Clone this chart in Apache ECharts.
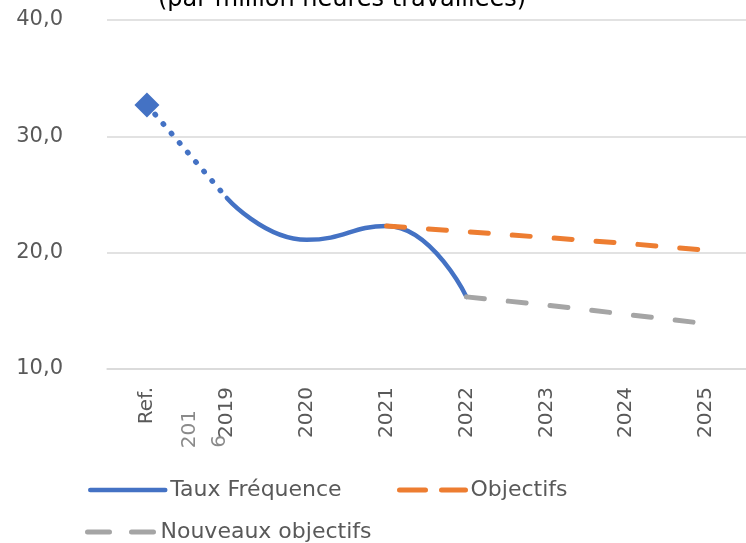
<!DOCTYPE html>
<html>
<head>
<meta charset="utf-8">
<script src="https://cdn.jsdelivr.net/npm/echarts@6/dist/echarts.min.js"></script>
<style>
  html, body { margin: 0; padding: 0; background: #fff; }
  #chart { width: 746px; height: 543px; }
</style>
</head>
<body>
<div id="chart"></div>
<script>
// categories and values
const categories = ['Ref.', '2019', '2020', '2021', '2022', '2023', '2024', '2025'];
const refDotted = [32.7, 24.7, null, null, null, null, null, null];
const tauxFrequence = [null, 24.7, 21.1, 22.3, 16.2, null, null, null];
const objectifs = [null, null, null, 22.3, 21.8, 21.3, 20.8, 20.2];
const nouveauxObjectifs = [null, null, null, null, 16.2, 15.5, 14.7, 13.9];
const yTicks = [10, 20, 30, 40];

const FONT = 'DejaVu Sans';
const GREY_TEXT = '#595959';
const BLUE = '#4472C4', ORANGE = '#ED7D31', GREY = '#A5A5A5';

let chart = echarts.init(document.getElementById('chart'));

// premier point : losange, puis pointillés
const refData = refDotted.map((v, i) => {
  if (v === null) return '-';
  if (i === 0) return { value: v, symbol: 'diamond', symbolSize: 25 };
  return { value: v, symbol: 'none' };
});

const noSymbol = { opacity: 0, color: 'rgba(0,0,0,0)', borderWidth: 0 };
const legendText = { fontFamily: FONT, fontSize: 22, color: GREY_TEXT };

let option = {
  animation: false,
  title: {
    text: '(par million heures travaillées)',
    left: 337,
    top: -17,
    textAlign: 'center',
    textStyle: { fontFamily: FONT, fontSize: 24, fontWeight: 'normal', color: '#000' }
  },
  legend: [
    {
      data: ['Taux Fréquence'],
      left: 83, top: 474,
      itemWidth: 75, itemHeight: 14,
      itemStyle: noSymbol,
      lineStyle: { width: 4.5, cap: 'round' },
      textStyle: legendText
    },
    {
      data: ['Objectifs'],
      left: 392, top: 474,
      itemWidth: 66, itemHeight: 14,
      itemStyle: noSymbol,
      lineStyle: { width: 5, type: [26, 16], cap: 'round' },
      textStyle: legendText
    },
    {
      data: ['Nouveaux objectifs'],
      left: 80, top: 516,
      itemWidth: 68, itemHeight: 14,
      itemStyle: noSymbol,
      lineStyle: { width: 5, type: [22, 22], cap: 'round' },
      textStyle: legendText
    }
  ],
  grid: { left: 107, right: -4, top: 20, bottom: 174 },
  xAxis: {
    type: 'category',
    data: categories,
    boundaryGap: true,
    axisLine: { lineStyle: { color: '#D9D9D9', width: 1.5 } },
    axisTick: { show: false },
    axisLabel: {
      rotate: 90,
      margin: 18,
      interval: 0,
      fontFamily: FONT,
      fontSize: 20,
      color: GREY_TEXT
    }
  },
  yAxis: {
    type: 'value',
    min: yTicks[0],
    max: yTicks[yTicks.length - 1],
    interval: 10,
    axisLine: { show: false },
    axisTick: { show: false },
    splitLine: { lineStyle: { color: '#D9D9D9', width: 1.5 } },
    axisLabel: {
      margin: 44,
      fontFamily: FONT,
      fontSize: 21,
      color: GREY_TEXT,
      formatter: v => v.toFixed(1).replace('.', ',')
    }
  },
  graphic: [
    // reste du libellé "Ref. 2016" coupé par Excel
    {
      type: 'text', x: 190, y: 410, rotation: Math.PI / 2,
      style: { text: '201', fontFamily: FONT, fontSize: 20, fill: '#8a8a8a', align: 'right', verticalAlign: 'middle' }
    },
    {
      type: 'text', x: 220, y: 435, rotation: Math.PI / 2,
      style: { text: '6', fontFamily: FONT, fontSize: 20, fill: '#8a8a8a', align: 'right', verticalAlign: 'middle' }
    }
  ],
  series: [
    {
      name: 'Réf.',
      type: 'line',
      data: refData,
      showAllSymbol: true,
      itemStyle: { color: BLUE },
      lineStyle: { color: BLUE, width: 5.5, type: [0.5, 12], cap: 'round' },
      z: 3
    },
    {
      name: 'Taux Fréquence',
      type: 'line',
      data: tauxFrequence.map(v => v === null ? '-' : v),
      smooth: 0.5,
      symbol: 'none',
      itemStyle: { color: BLUE },
      lineStyle: { color: BLUE, width: 4.5, cap: 'round' },
      z: 2
    },
    {
      name: 'Objectifs',
      type: 'line',
      data: objectifs.map(v => v === null ? '-' : v),
      symbol: 'none',
      itemStyle: { color: ORANGE },
      lineStyle: { color: ORANGE, width: 5, type: [18, 24], cap: 'round' },
      z: 4
    },
    {
      name: 'Nouveaux objectifs',
      type: 'line',
      data: nouveauxObjectifs.map(v => v === null ? '-' : v),
      symbol: 'none',
      itemStyle: { color: GREY },
      lineStyle: { color: GREY, width: 5, type: [18, 24], cap: 'round' },
      z: 4
    }
  ]
};

chart.setOption(option);
window.addEventListener('resize', () => chart.resize(), false);
</script>
</body>
</html>
